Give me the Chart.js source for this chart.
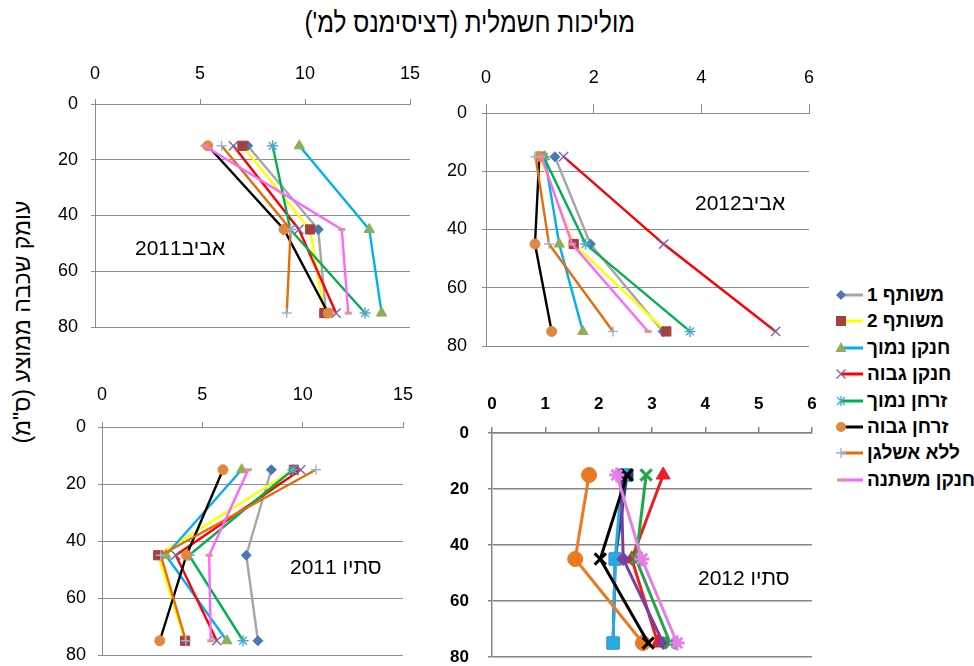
<!DOCTYPE html>
<html lang="he">
<head>
<meta charset="utf-8">
<title>מוליכות חשמלית</title>
<script src="https://cdn.jsdelivr.net/npm/chart.js@4.4.1/dist/chart.umd.min.js"></script>
<style>
  html, body { margin: 0; padding: 0; background: #fff; }
  body { width: 974px; height: 666px; overflow: hidden; position: relative;
         font-family: "Liberation Sans", Arial, sans-serif; color: #000; }
  canvas { position: absolute; }
  .main-title { position: absolute; left: 0; width: 940px; top: 6px; text-align: center;
                font-size: 29px; line-height: 32px; white-space: nowrap; }
  .main-title span { display: inline-block; transform: scaleX(0.84); transform-origin: center; }
  .y-title { position: absolute; width: 320px; left: -138px; top: 309px; text-align: center;
             font-size: 23px; line-height: 26px; white-space: nowrap; transform: rotate(-90deg); }
  .panel-label { position: absolute; font-size: 21px; line-height: 21px; white-space: nowrap; }
  .legend { position: absolute; left: 832px; top: 0; width: 150px; }
  .legend-row { position: absolute; left: 0; height: 20px; white-space: nowrap; }
  .legend-row svg { position: absolute; left: 0; top: 2px; }
  .legend-row span { position: absolute; left: 35px; top: 0; font-size: 19px; line-height: 20px;
                     font-weight: bold; }
</style>
</head>
<body>

<div class="main-title"><span dir="rtl">מוליכות חשמלית (דציסימנס למ')</span></div>
<div class="y-title" dir="rtl">עומק שכבה ממוצע (ס"מ)</div>

<canvas id="spring2011" width="397" height="283" style="left:35px;top:54px;"></canvas>
<canvas id="spring2012" width="403" height="298" style="left:426px;top:58px;"></canvas>
<canvas id="autumn2011" width="383" height="291" style="left:42px;top:372px;"></canvas>
<canvas id="autumn2012" width="400" height="283" style="left:432px;top:383px;"></canvas>

<div class="panel-label" dir="rtl" style="left:135px;top:237px;">אביב2011</div>
<div class="panel-label" dir="rtl" style="left:695px;top:192px;">אביב2012</div>
<div class="panel-label" dir="rtl" style="left:290px;top:556px;">סתיו 2011</div>
<div class="panel-label" dir="rtl" style="left:698px;top:567px;">סתיו 2012</div>

<div class="legend" id="legend"></div>

<script>
// Sampling depths (cm) and treatments
const depths = [15, 45, 75];
const seriesNames = ['משותף 1', 'משותף 2', 'חנקן נמוך', 'חנקן גבוה',
                     'זרחן נמוך', 'זרחן גבוה', 'ללא אשלגן', 'חנקן משתנה'];

// Electrical conductivity (dS/m) per treatment, at depths 15 / 45 / 75 cm
const spring2011 = [
  [7.27, 10.63, 11.0],
  [7.02, 10.24, 10.92],
  [9.73, 13.06, 13.65],
  [6.59, 9.71, 11.48],
  [8.46, 9.3, 12.86],
  [5.37, 9.0, 11.1],
  [6.03, 9.32, 9.13],
  [5.2, 11.75, 12.06]
];
const spring2012 = [
  [1.28, 1.94, 3.29],
  [1.0, 1.63, 3.35],
  [1.09, 1.36, 1.8],
  [1.44, 3.3, 5.38],
  [1.07, 1.85, 3.79],
  [0.99, 0.91, 1.22],
  [0.92, 1.17, 2.36],
  [1.03, 1.6, 3.01]
];
const autumn2011 = [
  [8.44, 7.19, 7.77],
  [9.56, 2.8, 4.14],
  [6.96, 3.18, 6.22],
  [9.9, 3.68, 5.72],
  [9.51, 4.34, 7.03],
  [6.03, 4.21, 2.88],
  [10.66, 2.93, 4.18],
  [7.29, 5.34, 5.42]
];
const autumn2012 = [
  [2.53, 2.31, 2.27],
  [2.44, 2.31, 2.27],
  [3.21, 2.62, 3.11],
  [2.42, 2.46, 3.21],
  [2.89, 2.7, 3.34],
  [1.82, 1.56, 2.83],
  [2.53, 2.03, 2.93],
  [2.34, 2.81, 3.47]
];

// Axis ticks
const depthTicks = [0, 20, 40, 60, 80];
const ecTicks2011 = [0, 5, 10, 15];
const ecTicks2012 = [0, 2, 4, 6];
const ecTicksAutumn2012 = [0, 1, 2, 3, 4, 5, 6];

// Series styles (first three panels and legend)
const lineColors   = ['#A6A6A6', '#FFFF00', '#00B0F0', '#FF0000', '#00B050', '#000000', '#E46C0A', '#FF66FF'];
const markerColors = ['#4A78B5', '#A5403E', '#8FAE55', '#7E649F', '#4BACC6', '#E3873F', '#9AB6DB', '#D99694'];
const markerShapes = ['rectRot', 'rect', 'triangle', 'crossRot', 'star', 'circle', 'cross', 'line'];

// Styles for the autumn 2012 panel
const lineColorsB   = ['#233E7A', '#27AAE1', '#EE1C24', '#7B3FA0', '#1FA64A', '#E87B22', '#000000', '#E57FE6'];
const markerShapesB = ['rect', 'rect', 'triangle', 'rectRot', 'crossRot', 'circle', 'crossRot', 'star'];

const shapeRadius = { rectRot: 5, rect: 6.5, triangle: 6, crossRot: 6.5, star: 5.5, circle: 5, cross: 5, line: 3.5 };
const shapeRadiusB = { rectRot: 6.5, rect: 8.5, triangle: 8, crossRot: 8, star: 7.5, circle: 7.5, cross: 7, line: 5 };

const tickFont = { family: '"Liberation Sans Narrow", "Liberation Sans", Arial, sans-serif', size: 18 };
const tickFontBold = { family: '"Liberation Sans", Arial, sans-serif', size: 17, weight: 'bold' };

function buildPanel(id, values, p) {
  const datasets = values.map((vals, i) => {
    const shape = p.shapes[i];
    const mColor = p.markerColors[i];
    const open = shape === 'crossRot' || shape === 'cross' || shape === 'star' || shape === 'line';
    return {
      label: seriesNames[i],
      data: depths.map((d, k) => ({ x: vals[k], y: d })),
      // first series at the bottom, last series on top
      order: values.length - i,
      showLine: true,
      tension: 0,
      clip: false,
      borderColor: p.lineColors[i],
      borderWidth: p.lineWidth,
      pointStyle: shape,
      pointRadius: p.radius[shape],
      pointBackgroundColor: mColor,
      pointBorderColor: mColor,
      pointBorderWidth: open ? (shape === 'line' ? 3 : p.crossWidth) : 1
    };
  });

  return new Chart(document.getElementById(id), {
    type: 'scatter',
    data: { datasets },
    options: {
      responsive: false,
      animation: false,
      events: [],
      layout: { autoPadding: false, padding: { left: 0, top: 0, right: p.padRight, bottom: p.padBottom } },
      plugins: { legend: { display: false }, tooltip: { enabled: false }, title: { display: false } },
      scales: {
        x: {
          type: 'linear',
          position: 'top',
          min: p.xTicks[0],
          max: p.xTicks[p.xTicks.length - 1],
          afterBuildTicks: (s) => { s.ticks = p.xTicks.map(v => ({ value: v })); },
          afterFit: (s) => { s.height = p.xAxisHeight; s.paddingLeft = 0; s.paddingRight = 0; },
          ticks: { font: p.font, color: '#000', padding: p.xPad, maxRotation: 0 },
          grid: { drawOnChartArea: false, drawTicks: true, tickLength: p.xTickLen, color: p.gridColor, lineWidth: p.gridWidth },
          border: { display: true, color: p.gridColor, width: p.gridWidth }
        },
        y: {
          type: 'linear',
          reverse: true,
          min: 0,
          max: 80,
          afterBuildTicks: (s) => { s.ticks = depthTicks.map(v => ({ value: v })); },
          afterFit: (s) => { s.width = p.yAxisWidth; s.paddingTop = 0; s.paddingBottom = 0; },
          ticks: { font: p.font, color: '#000', padding: p.yPad },
          grid: { drawOnChartArea: true, drawTicks: true, tickLength: 4, color: p.gridColor, lineWidth: p.gridWidth },
          border: { display: true, color: p.gridColor, width: p.gridWidth }
        }
      }
    }
  });
}

const basePanel = {
  lineColors, markerColors, shapes: markerShapes, radius: shapeRadius,
  lineWidth: 2.4, crossWidth: 1.4, font: tickFont, gridColor: '#8C8C8C', gridWidth: 1,
  yAxisWidth: 60, padRight: 22, padBottom: 10, xTickLen: 5
};

buildPanel('spring2011', spring2011, Object.assign({}, basePanel, {
  xTicks: ecTicks2011, xAxisHeight: 50, xPad: 14, yPad: 13
}));
buildPanel('spring2012', spring2012, Object.assign({}, basePanel, {
  xTicks: ecTicks2012, xAxisHeight: 55, xPad: 15, yPad: 15, xTickLen: 9, padRight: 20
}));
buildPanel('autumn2011', autumn2011, Object.assign({}, basePanel, {
  xTicks: ecTicks2011, xAxisHeight: 55, xPad: 16, yPad: 12, padBottom: 8
}));
buildPanel('autumn2012', autumn2012, Object.assign({}, basePanel, {
  lineColors: lineColorsB, markerColors: lineColorsB, shapes: markerShapesB, radius: shapeRadiusB,
  lineWidth: 3, crossWidth: 3, font: tickFontBold, gridColor: '#858585', gridWidth: 1.5,
  xTicks: ecTicksAutumn2012, xAxisHeight: 50, xPad: 12, yPad: 19, xTickLen: 6, padRight: 20, padBottom: 9
}));

// Legend: marker + short line segment, then the treatment name
function markerSvg(shape, color) {
  const cx = 9, cy = 8;
  switch (shape) {
    case 'rectRot': return `<polygon points="${cx},${cy-5} ${cx+5},${cy} ${cx},${cy+5} ${cx-5},${cy}" fill="${color}"/>`;
    case 'rect': return `<rect x="${cx-5}" y="${cy-5}" width="10" height="10" fill="${color}"/>`;
    case 'triangle': return `<polygon points="${cx},${cy-6} ${cx+5.5},${cy+4} ${cx-5.5},${cy+4}" fill="${color}"/>`;
    case 'circle': return `<circle cx="${cx}" cy="${cy}" r="5" fill="${color}"/>`;
    case 'crossRot': return `<path d="M${cx-4.5} ${cy-4.5}L${cx+4.5} ${cy+4.5}M${cx-4.5} ${cy+4.5}L${cx+4.5} ${cy-4.5}" stroke="${color}" stroke-width="1.4"/>`;
    case 'star': return `<path d="M${cx-4} ${cy-4}L${cx+4} ${cy+4}M${cx-4} ${cy+4}L${cx+4} ${cy-4}M${cx} ${cy-5}L${cx} ${cy+5}" stroke="${color}" stroke-width="1.4"/>`;
    case 'cross': return `<path d="M${cx-5} ${cy}L${cx+5} ${cy}M${cx} ${cy-5}L${cx} ${cy+5}" stroke="${color}" stroke-width="1.4"/>`;
    case 'line': return `<path d="M${cx-4} ${cy}L${cx+4} ${cy}" stroke="${color}" stroke-width="3"/>`;
  }
  return '';
}
const legend = document.getElementById('legend');
seriesNames.forEach((name, i) => {
  const row = document.createElement('div');
  row.className = 'legend-row';
  row.style.top = (285 + i * 26.4) + 'px';
  row.innerHTML =
    `<svg width="34" height="16" viewBox="0 0 34 16">` +
    `<line x1="9" y1="8" x2="31" y2="8" stroke="${lineColors[i]}" stroke-width="3"/>` +
    markerSvg(markerShapes[i], markerColors[i]) + `</svg>` +
    `<span dir="rtl">${name}</span>`;
  legend.appendChild(row);
});
</script>
</body>
</html>
